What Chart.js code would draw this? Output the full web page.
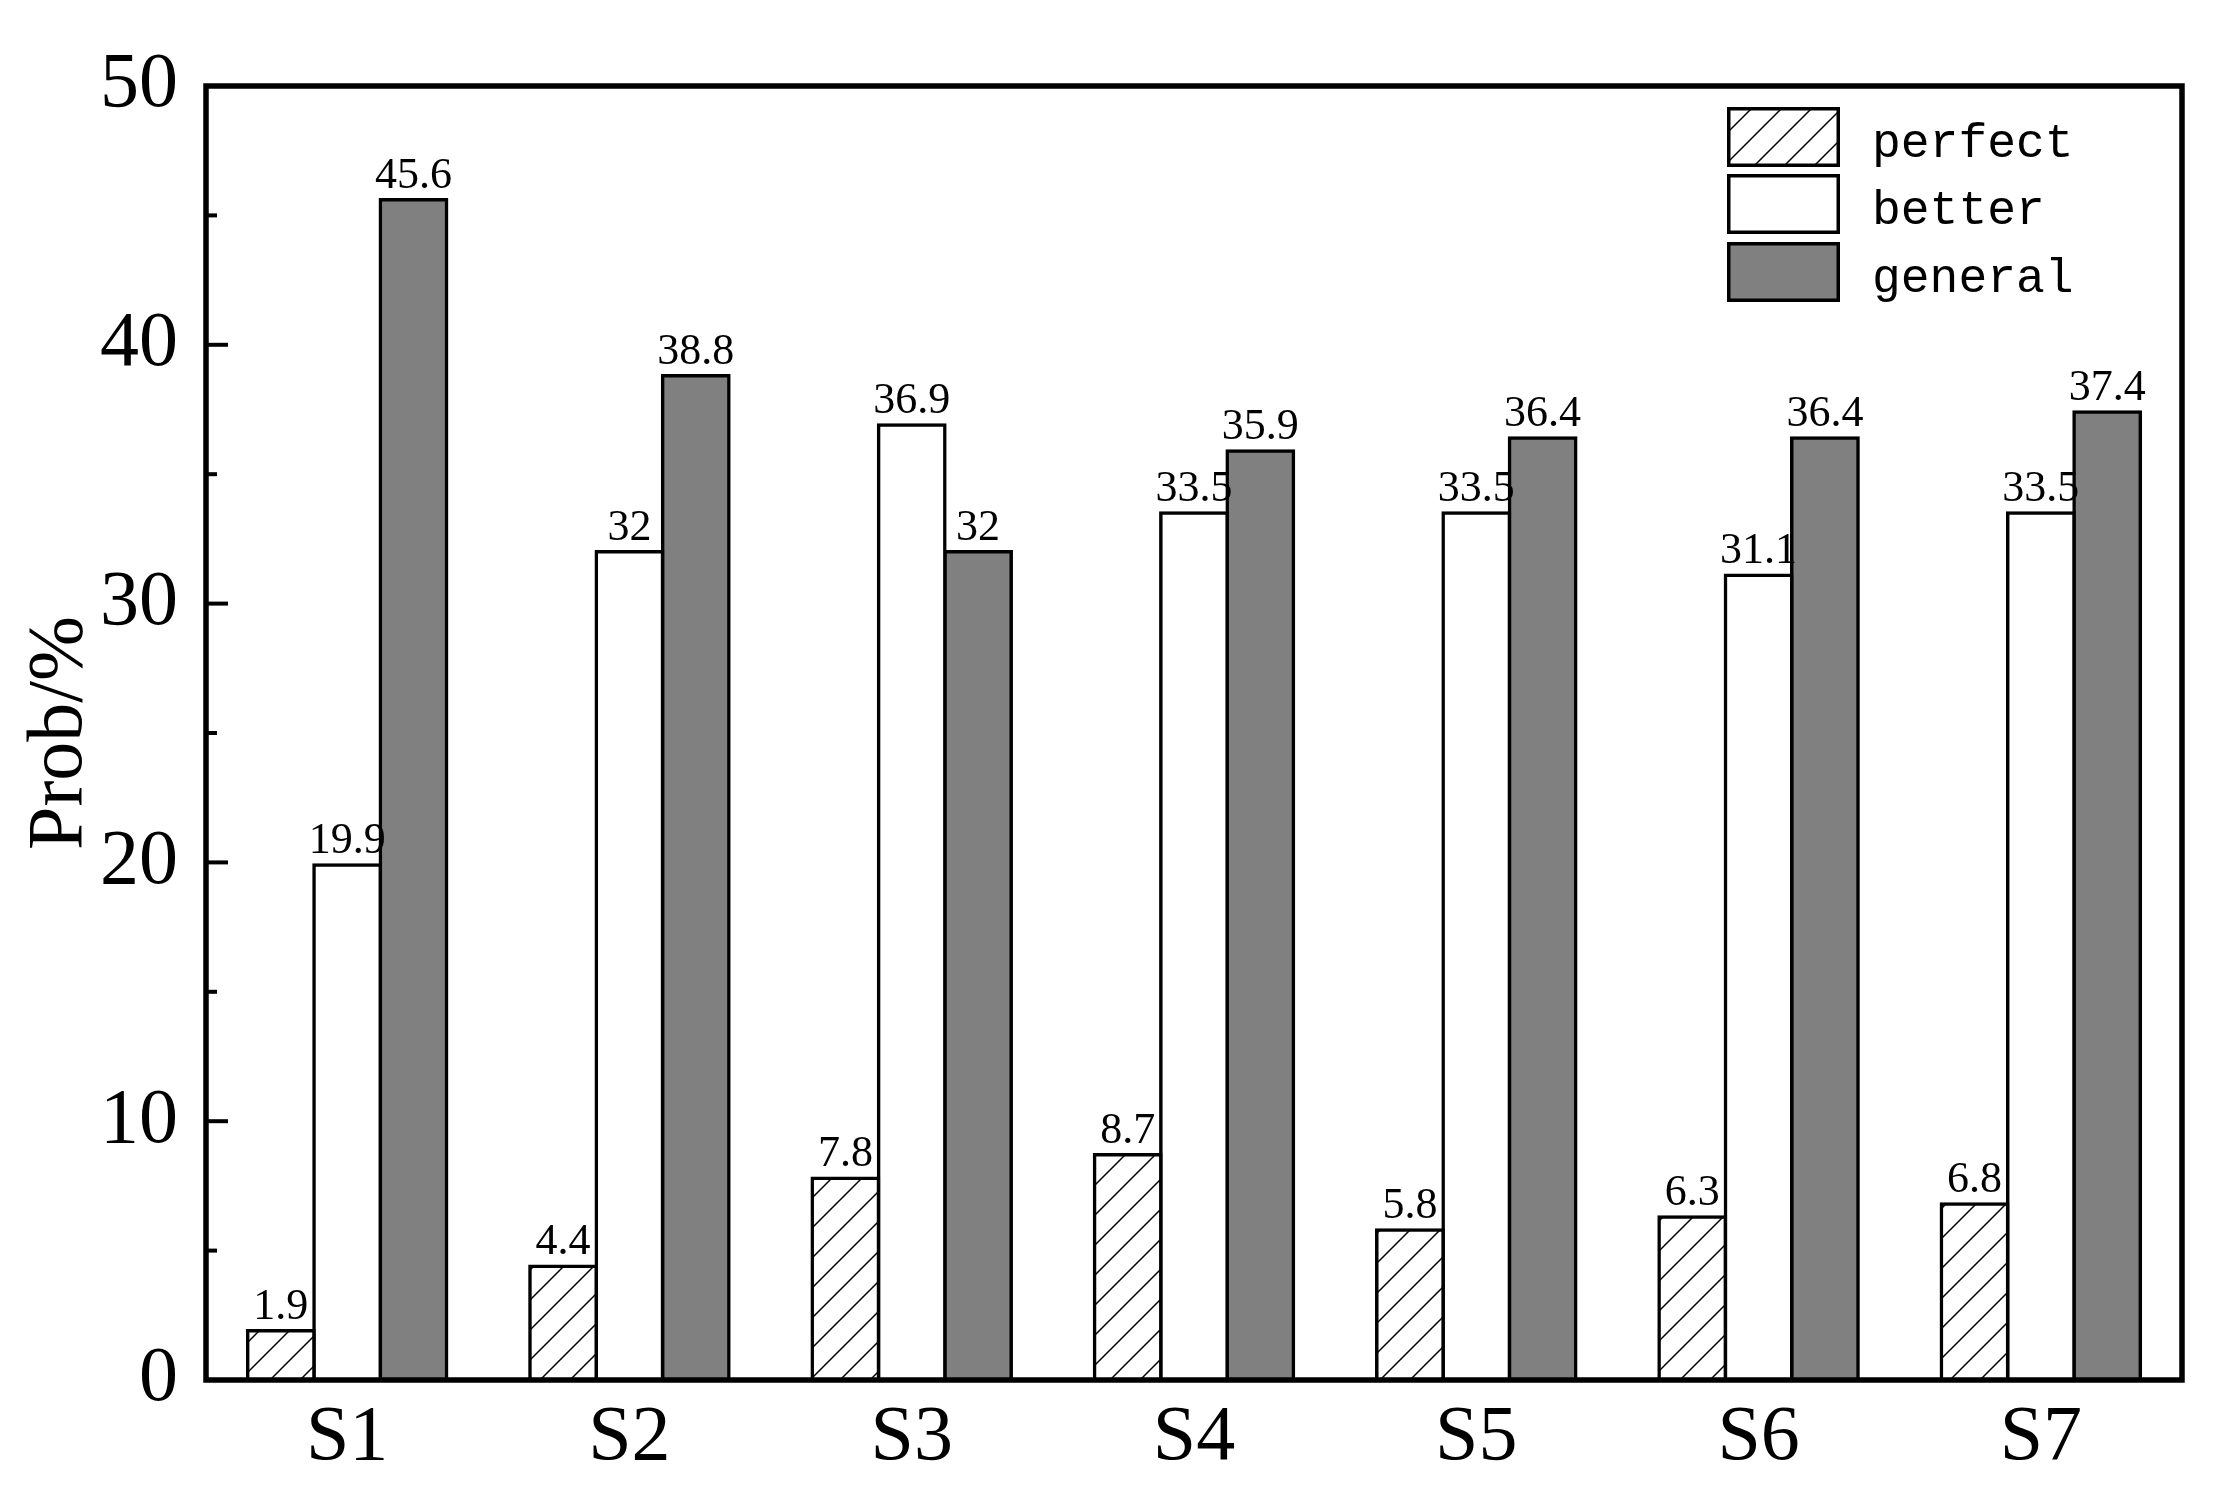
<!DOCTYPE html>
<html>
<head>
<meta charset="utf-8">
<script src="https://cdn.jsdelivr.net/npm/chart.js@4.4.1/dist/chart.umd.min.js"></script>
<style>
  html, body { margin: 0; padding: 0; background: #fff; }
  #wrap { width: 2220px; height: 1509px; }
</style>
</head>
<body>
<div id="wrap"><canvas id="chart" width="2220" height="1509"></canvas></div>
<script>
const categories = ['S1', 'S2', 'S3', 'S4', 'S5', 'S6', 'S7'];
const seriesNames = ['perfect', 'better', 'general'];
const perfect = [1.9, 4.4, 7.8, 8.7, 5.8, 6.3, 6.8];
const better = [19.9, 32, 36.9, 33.5, 33.5, 31.1, 33.5];
const general = [45.6, 38.8, 32, 35.9, 36.4, 36.4, 37.4];
const yTicks = [0, 5, 10, 15, 20, 25, 30, 35, 40, 45, 50];

const serif = '"Liberation Serif", "Times New Roman", serif';

function makeHatch() {
    const tile = document.createElement('canvas');
    tile.width = 30;
    tile.height = 30;
    const t = tile.getContext('2d');
    t.fillStyle = '#fff';
    t.fillRect(0, 0, 30, 30);
    t.strokeStyle = '#000';
    t.lineWidth = 1.5;
    t.beginPath();
    t.moveTo(-2, 32); t.lineTo(32, -2);
    t.moveTo(-17, 17); t.lineTo(17, -17);
    t.moveTo(13, 47); t.lineTo(47, 13);
    t.stroke();
    return document.getElementById('chart').getContext('2d').createPattern(tile, 'repeat');
}

const hatch = makeHatch();
const fills = [hatch, '#ffffff', '#808080'];

// value labels above each bar
const valueLabels = {
    id: 'valueLabels',
    afterDatasetsDraw(chart) {
        const ctx = chart.ctx;
        ctx.save();
        ctx.font = '44px ' + serif;
        ctx.fillStyle = '#000';
        ctx.textAlign = 'center';
        ctx.textBaseline = 'alphabetic';
        chart.data.datasets.forEach((ds, i) => {
            chart.getDatasetMeta(i).data.forEach((bar, j) => {
                ctx.fillText(String(ds.data[j]), bar.x, bar.y - 12);
            });
        });
        ctx.restore();
    }
};

// frame, inward ticks and legend
const frame = {
    id: 'frame',
    afterDraw(chart) {
        const ctx = chart.ctx;
        const a = chart.chartArea;
        const y = chart.scales.y;
        ctx.save();
        ctx.strokeStyle = '#000';
        ctx.lineWidth = 4;
        yTicks.forEach(v => {
            const py = y.getPixelForValue(v);
            const len = v % 10 === 0 ? 22 : 11;
            ctx.beginPath();
            ctx.moveTo(a.left, py);
            ctx.lineTo(a.left + len, py);
            ctx.stroke();
        });
        ctx.lineWidth = 5.5;
        ctx.strokeRect(a.left, a.top, a.right - a.left, a.bottom - a.top);

        // legend
        const boxX = 1727, boxW = 113, boxH = 60;
        const boxTops = [107, 174, 242];
        ctx.font = '48px "Liberation Mono", monospace';
        ctx.textAlign = 'left';
        ctx.textBaseline = 'alphabetic';
        seriesNames.forEach((name, i) => {
            const top = boxTops[i];
            ctx.fillStyle = fills[i];
            ctx.fillRect(boxX, top, boxW, boxH);
            ctx.lineWidth = 3.5;
            ctx.strokeRect(boxX + 1.75, top + 1.75, boxW - 3.5, boxH - 3.5);
            ctx.fillStyle = '#000';
            ctx.fillText(name, 1872, top + boxH / 2 + 20);
        });
        ctx.restore();
    }
};

new Chart(document.getElementById('chart'), {
    type: 'bar',
    data: {
        labels: categories,
        datasets: [perfect, better, general].map((values, i) => ({
            label: seriesNames[i],
            data: values,
            backgroundColor: fills[i],
            borderColor: '#000',
            borderWidth: 3.5,
            inflateAmount: 1.75,
            borderSkipped: 'start',
            barPercentage: 1,
            categoryPercentage: 0.705
        }))
    },
    options: {
        responsive: false,
        animation: false,
        layout: { padding: { top: 86, right: 38, bottom: 0, left: 0 } },
        plugins: {
            legend: { display: false },
            tooltip: { enabled: false }
        },
        scales: {
            x: {
                grid: { display: false, drawTicks: false },
                border: { display: false },
                ticks: {
                    color: '#000',
                    padding: 12,
                    font: { family: serif, size: 78 }
                },
                afterFit(scale) { scale.height = 129; }
            },
            y: {
                min: 0,
                max: 50,
                grid: { display: false, drawTicks: false },
                border: { display: false },
                ticks: {
                    stepSize: 10,
                    color: '#000',
                    padding: 28,
                    font: { family: serif, size: 78 }
                },
                title: {
                    display: true,
                    text: 'Prob/%',
                    color: '#000',
                    padding: { top: 14, bottom: 0 },
                    font: { family: serif, size: 78 }
                },
                afterFit(scale) { scale.width = 206; }
            }
        }
    },
    plugins: [valueLabels, frame]
});
</script>
</body>
</html>
